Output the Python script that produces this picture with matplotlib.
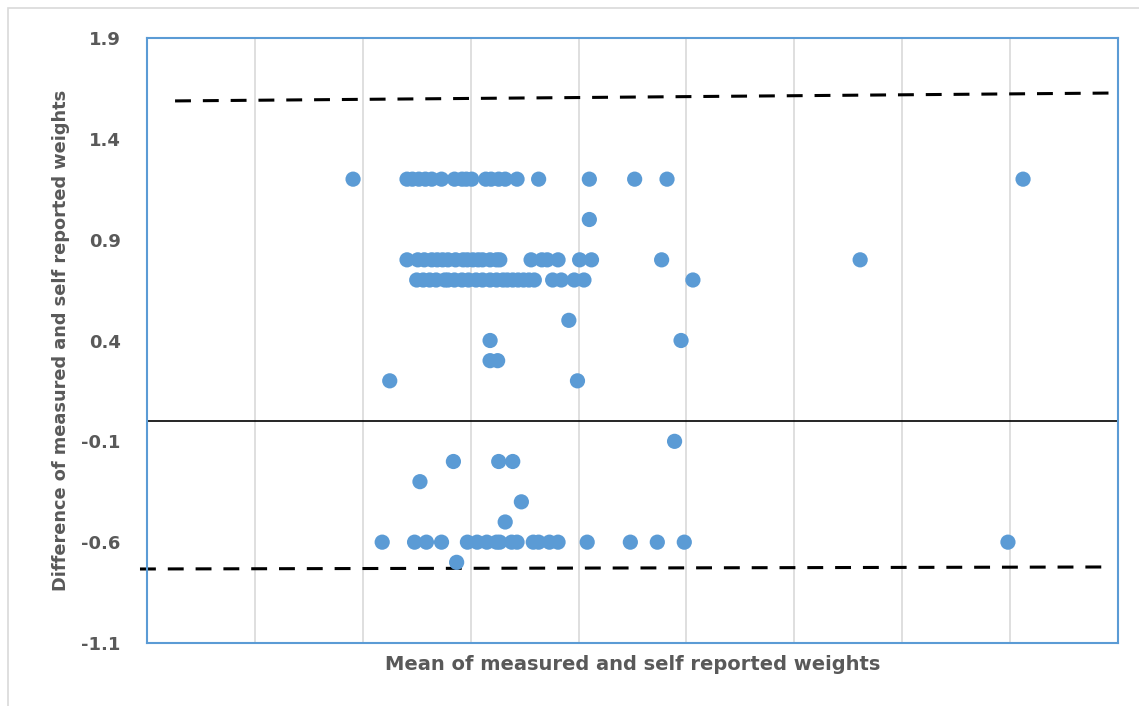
import matplotlib.pyplot as plt
from matplotlib.patches import Rectangle

# Bland-Altman style data (x = mean of weights, y = difference)
x_12 = [59.1, 64.1, 64.6, 65.2, 65.8, 66.4, 67.3, 68.5, 69.2, 69.6, 70.1, 71.4, 71.9, 72.6, 73.2, 74.3, 76.3, 81.0, 85.2, 88.2, 121.2]
x_10 = [81.0]
x_08 = [64.1, 65.1, 65.7, 66.4, 66.9, 67.4, 67.9, 68.6, 69.3, 69.7, 70.2, 70.7, 71.1, 71.8, 72.4, 72.7,
        75.6, 76.6, 77.1, 78.1, 80.1, 81.2, 87.7, 106.1]
x_07 = [65.0, 65.6, 66.2, 66.8, 67.6, 67.9, 68.5, 69.2, 69.8, 70.5, 71.1, 71.8, 72.4, 73.0, 73.4, 73.9,
        74.4, 74.9, 75.4, 75.9, 77.6, 78.4, 79.6, 80.5, 90.6]
x_05 = [79.1]
x_04 = [71.8, 89.5]
x_03 = [71.8, 72.5]
x_02 = [62.5, 79.9]
x_m01 = [88.9]
x_m02 = [68.4, 72.6, 73.9]
x_m03 = [65.3]
x_m04 = [74.7]
x_m05 = [73.2]
x_m06 = [61.8, 64.8, 65.9, 67.3, 69.7, 70.6, 71.5, 72.4, 72.7, 73.8, 74.3, 75.8, 76.3, 77.3, 78.1,
         80.8, 84.8, 87.3, 89.8, 119.8]
x_m07 = [68.7]

rows = [(1.2, x_12), (1.0, x_10), (0.8, x_08), (0.7, x_07), (0.5, x_05), (0.4, x_04), (0.3, x_03),
        (0.2, x_02), (-0.1, x_m01), (-0.2, x_m02), (-0.3, x_m03), (-0.4, x_m04), (-0.5, x_m05),
        (-0.6, x_m06), (-0.7, x_m07)]

# limits of agreement lines (start, end)
upper_x = [42.6, 129.2]
upper_y = [1.588, 1.627]
lower_x = [39.35, 129.2]
lower_y = [-0.733, -0.723]

xs, ys = [], []
for yv, xl in rows:
    xs += xl
    ys += [yv] * len(xl)

blue = "#5B9BD5"
grey = "#595959"

fig = plt.figure(figsize=(11.39, 7.06), dpi=100)
fig.patches.append(Rectangle((8 / 1139, -0.1), 1.2, 1 - 8 / 706 + 0.1, transform=fig.transFigure,
                             fill=False, edgecolor="#D9D9D9", linewidth=1.2))
ax = fig.add_axes([147 / 1139, 1 - 643 / 706, (1118 - 147) / 1139, (643 - 38) / 706])

ax.set_xlim(40, 130)
ax.set_ylim(-1.1, 1.9)
ax.set_xticks(range(50, 130, 10))
ax.set_yticks([1.9, 1.4, 0.9, 0.4, -0.1, -0.6, -1.1])
ax.set_yticklabels(["1.9", "1.4", "0.9", "0.4", "-0.1", "-0.6", "-1.1"])
ax.tick_params(axis="x", length=0, labelbottom=False)
ax.tick_params(axis="y", length=0, pad=19, labelsize=13, labelcolor=grey)
for lab in ax.get_yticklabels():
    lab.set_fontweight("bold")

ax.grid(axis="x", color="#D9D9D9", linewidth=1.2)
ax.set_axisbelow(True)
for s in ax.spines.values():
    s.set_color(blue)
    s.set_linewidth(1.5)

ax.axhline(0, color="black", linewidth=1.2, zorder=2)
ax.plot(upper_x, upper_y, color="black", linewidth=2.2, dashes=(5.2, 3.9), clip_on=False, zorder=2)
ax.plot(lower_x, lower_y, color="black", linewidth=2.2, dashes=(5.2, 3.9), clip_on=False, zorder=2)

ax.scatter(xs, ys, s=120, color=blue, edgecolors="none", zorder=3)

ax.set_xlabel("Mean of measured and self reported weights", fontsize=14, fontweight="bold",
              color=grey, labelpad=9)
ax.set_ylabel("Difference of measured and self reported weights", fontsize=12.8, fontweight="bold",
              color=grey, labelpad=8)

fig.savefig("out.png", dpi=100)
